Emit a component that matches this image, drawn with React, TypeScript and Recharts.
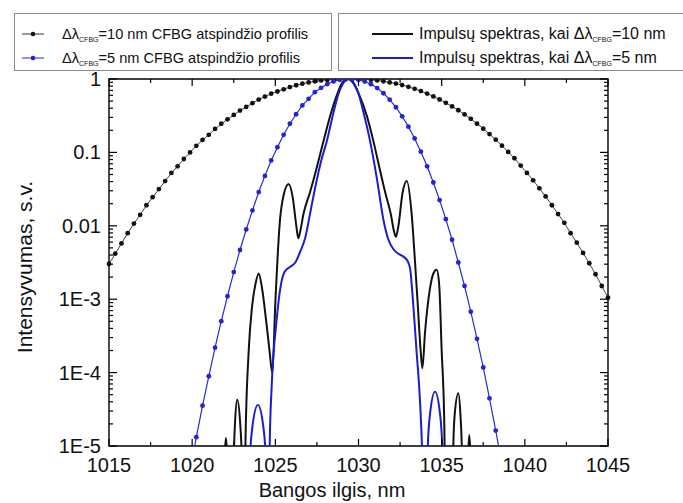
import React from "react";
import { LineChart, Line, XAxis, YAxis, ReferenceArea, Legend } from "recharts";

const FONT = '"Liberation Sans", Arial, sans-serif';
const PLOT_W = 499;
const PLOT_H = 367;

// CFBG reflection profiles, log10 of intensity, on a shared wavelength grid (nm)
const profileX = [
  1015, 1015.375, 1015.75, 1016.125, 1016.5, 1016.875, 1017.25, 1017.625, 1018, 1018.375,
  1018.75, 1019.125, 1019.5, 1019.875, 1020.25, 1020.625, 1021, 1021.375, 1021.75, 1022.125,
  1022.5, 1022.875, 1023.25, 1023.625, 1024, 1024.375, 1024.75, 1025.125, 1025.5, 1025.875,
  1026.25, 1026.625, 1027, 1027.375, 1027.75, 1028.125, 1028.5, 1028.875, 1029.25, 1029.625,
  1030, 1030.375, 1030.75, 1031.125, 1031.5, 1031.875, 1032.25, 1032.625, 1033, 1033.375,
  1033.75, 1034.125, 1034.5, 1034.875, 1035.25, 1035.625, 1036, 1036.375, 1036.75, 1037.125,
  1037.5, 1037.875, 1038.25, 1038.625, 1039, 1039.375, 1039.75, 1040.125, 1040.5, 1040.875,
  1041.25, 1041.625, 1042, 1042.375, 1042.75, 1043.125, 1043.5, 1043.875, 1044.25, 1044.625, 1045,
];
const profile10Log = [
  -2.52, -2.38, -2.24, -2.1, -1.97, -1.85, -1.72, -1.61, -1.5, -1.39,
  -1.28, -1.19, -1.09, -1.0, -0.91, -0.83, -0.76, -0.68, -0.61, -0.55,
  -0.49, -0.43, -0.38, -0.33, -0.28, -0.24, -0.2, -0.17, -0.14, -0.11,
  -0.085, -0.064, -0.047, -0.032, -0.02, -0.012, -0.006, -0.002, 0, 0,
  -0.002, -0.005, -0.011, -0.02, -0.031, -0.046, -0.063, -0.083, -0.107, -0.134,
  -0.165, -0.199, -0.237, -0.279, -0.324, -0.373, -0.426, -0.482, -0.543, -0.608,
  -0.677, -0.75, -0.827, -0.908, -0.994, -1.08, -1.18, -1.28, -1.38, -1.49,
  -1.6, -1.72, -1.84, -1.96, -2.1, -2.23, -2.37, -2.51, -2.66, -2.82, -2.98,
];
// 5 nm profile starts at profileX[13]
const profile5From = 13;
const profile5Log = [
  -5.33, -4.88, -4.45, -4.05, -3.66, -3.3, -2.96, -2.63, -2.33, -2.05,
  -1.79, -1.54, -1.32, -1.11, -0.93, -0.76, -0.61, -0.48, -0.36, -0.27,
  -0.18, -0.12, -0.069, -0.033, -0.011, -0.001, -0.001, -0.011, -0.034, -0.071,
  -0.124, -0.194, -0.281, -0.385, -0.508, -0.649, -0.81, -0.99, -1.19, -1.41,
  -1.65, -1.91, -2.19, -2.5, -2.82, -3.17, -3.54, -3.93, -4.35, -4.79, -5.25,
];

// pulse spectra, log10 of intensity (spectral nulls fall far below the axis)
const spectrum10X = [
  1021.86, 1021.9, 1021.945, 1022.03, 1022.115, 1022.16, 1022.2, 1022.41, 1022.5, 1022.58,
  1022.71, 1022.88, 1022.99, 1023.12, 1023.2, 1023.4, 1023.6, 1023.8, 1024.0, 1024.2,
  1024.45, 1024.65, 1024.82, 1025.0, 1025.28, 1025.5, 1025.8, 1026.05, 1026.25, 1026.38,
  1026.5, 1026.7, 1027.09, 1027.5, 1027.89, 1028.3, 1028.7, 1029.0, 1029.35, 1029.7,
  1030.05, 1030.5, 1030.9, 1031.25, 1031.6, 1031.95, 1032.13, 1032.25, 1032.4, 1032.65,
  1032.9, 1033.2, 1033.4, 1033.57, 1033.72, 1033.84, 1034.0, 1034.3, 1034.5, 1034.7,
  1034.85, 1035.0, 1035.15, 1035.3, 1035.6, 1035.69, 1035.78, 1036.0, 1036.13, 1036.22,
  1036.3, 1036.5, 1036.55, 1036.59, 1036.66, 1036.73, 1036.77, 1036.86,
];
const spectrum10Log = [
  -7, -5.72, -5.19, -4.89, -5.19, -5.72, -7, -7, -5.2, -4.67,
  -4.37, -4.67, -5.2, -7, -5.0, -3.7, -3.1, -2.8, -2.65, -2.85,
  -3.3, -3.7, -4.01, -3.05, -1.92, -1.58, -1.43, -1.62, -1.98, -2.17,
  -2.07, -1.83, -1.54, -1.2, -0.85, -0.5, -0.22, -0.06, 0, -0.06,
  -0.22, -0.5, -0.85, -1.2, -1.54, -1.85, -2.07, -2.15, -2.0, -1.55,
  -1.39, -1.85, -2.5, -3.1, -3.65, -3.94, -3.45, -2.85, -2.65, -2.6,
  -2.8, -3.7, -4.6, -7, -7, -5.11, -4.58, -4.28, -4.58, -5.11,
  -7, -7, -5.68, -5.15, -4.85, -5.15, -5.68, -7,
];
const spectrum5X = [
  1023.33, 1023.45, 1023.62, 1023.95, 1024.28, 1024.45, 1024.57, 1024.66, 1024.78, 1025.08,
  1025.3, 1025.55, 1025.88, 1026.2, 1026.5, 1026.79, 1027.1, 1027.45, 1027.75, 1028.09,
  1028.45, 1028.8, 1029.1, 1029.4, 1029.7, 1030.0, 1030.35, 1030.7, 1031.1, 1031.5,
  1031.8, 1032.1, 1032.4, 1032.7, 1032.95, 1033.1, 1033.3, 1033.5, 1033.7, 1033.85,
  1033.97, 1034.15, 1034.3, 1034.6, 1034.9, 1035.05, 1035.2,
];
const spectrum5Log = [
  -7, -5.27, -4.74, -4.44, -4.74, -5.27, -7, -5.0, -4.19, -3.28,
  -2.85, -2.63, -2.56, -2.5, -2.35, -2.17, -1.82, -1.42, -1.12, -0.85,
  -0.5, -0.2, -0.05, 0, -0.05, -0.2, -0.5, -0.85, -1.35, -1.92,
  -2.19, -2.32, -2.38, -2.42, -2.48, -2.58, -3.1, -3.74, -4.4, -5.3,
  -7, -5.09, -4.56, -4.26, -4.56, -5.09, -7,
];

const xTicks = [1015, 1017.5, 1020, 1022.5, 1025, 1027.5, 1030, 1032.5, 1035, 1037.5, 1040, 1042.5, 1045];
const yDecades = [1e-5, 1e-4, 1e-3, 0.01, 0.1, 1];
const yDecadeLabels = ["1E-5", "1E-4", "1E-3", "0.01", "0.1", "1"];

const toPoints = (xs: number[], logs: number[]) =>
  xs.map((x, i) => ({ x, y: Math.pow(10, logs[i]) }));

const profile10 = toPoints(profileX, profile10Log);
const profile5 = toPoints(profileX.slice(profile5From, profile5From + profile5Log.length), profile5Log);
const spectrum10 = toPoints(spectrum10X, spectrum10Log);
const spectrum5 = toPoints(spectrum5X, spectrum5Log);

// log ticks: decades plus 2..9 minor marks
const yTicks: number[] = [];
yDecades.forEach((d, i) => {
  if (i === yDecades.length - 1) yTicks.push(d);
  else for (let m = 1; m <= 9; m++) yTicks.push(d * m);
});

const XTick = (props: any) => {
  const { x, y, payload } = props;
  const major = payload.value % 5 === 0;
  const len = major ? 7 : 4;
  return (
    <g>
      <line x1={x} y1={y} x2={x} y2={y - len} stroke="#000" strokeWidth={1.2} />
      <line x1={x} y1={y - PLOT_H} x2={x} y2={y - PLOT_H + len} stroke="#000" strokeWidth={1.2} />
      {major && (
        <text x={x} y={y + 26} textAnchor="middle" fontSize={20} fontFamily={FONT} fill="#111">
          {payload.value}
        </text>
      )}
    </g>
  );
};

const YTick = (props: any) => {
  const { x, y, payload } = props;
  const idx = yDecades.findIndex((d) => Math.abs(payload.value - d) / d < 1e-6);
  const major = idx >= 0;
  const len = major ? 8 : 4;
  return (
    <g>
      <line x1={x} y1={y} x2={x + len} y2={y} stroke="#000" strokeWidth={1.2} />
      <line x1={x + PLOT_W} y1={y} x2={x + PLOT_W - len} y2={y} stroke="#000" strokeWidth={1.2} />
      {major && (
        <text x={x - 8} y={y + 7} textAnchor="end" fontSize={20} fontFamily={FONT} fill="#111">
          {yDecadeLabels[idx]}
        </text>
      )}
    </g>
  );
};

const DeltaLambda = () => (
  <span>
    Δλ<sub style={{ fontSize: 7, verticalAlign: "-3px" }}>CFBG</sub>
  </span>
);

const LegendBoxes = () => (
  <div style={{ position: "relative", width: 683, height: 75, fontFamily: FONT, color: "#111" }}>
    <div style={{ position: "absolute", left: 14, top: 13, width: 316, height: 56, border: "1px solid #8a8a8a" }} />
    <div style={{ position: "absolute", left: 338, top: 13, width: 360, height: 56, border: "1px solid #8a8a8a" }} />
    {[
      { top: 24, color: "#333", dot: "#111", text: "=10 nm CFBG atspindžio profilis" },
      { top: 48, color: "#2b2bd0", dot: "#2323d8", text: "=5 nm CFBG atspindžio profilis" },
    ].map((it) => (
      <div key={it.text} style={{ position: "absolute", left: 22, top: it.top, fontSize: 14.6, whiteSpace: "nowrap", display: "flex", alignItems: "center" }}>
        <svg width={24} height={20}>
          <line x1={0} y1={10} x2={22} y2={10} stroke={it.color} strokeWidth={1} />
          <circle cx={11} cy={10} r={2.3} fill={it.dot} />
        </svg>
        <span style={{ marginLeft: 16 }}>
          <DeltaLambda />
          {it.text}
        </span>
      </div>
    ))}
    {[
      { top: 24, color: "#111", text: "=10 nm" },
      { top: 48, color: "#1c1ccf", text: "=5 nm" },
    ].map((it) => (
      <div key={it.text} style={{ position: "absolute", left: 372, top: it.top, fontSize: 16, whiteSpace: "nowrap", display: "flex", alignItems: "center" }}>
        <svg width={42} height={20}>
          <line x1={0} y1={10} x2={41} y2={10} stroke={it.color} strokeWidth={2} />
        </svg>
        <span style={{ marginLeft: 5 }}>
          Impulsų spektras, kai <DeltaLambda />
          {it.text}
        </span>
      </div>
    ))}
  </div>
);

export default function App() {
  return (
    <div style={{ position: "absolute", left: 0, top: 0, width: 683, height: 503, background: "#fff" }}>
      <LineChart width={683} height={503} margin={{ top: 79, right: 75, bottom: 0, left: 0 }}>
        <XAxis
          dataKey="x"
          type="number"
          domain={[1015, 1045]}
          ticks={xTicks}
          interval={0}
          height={57}
          tickSize={0}
          tickMargin={0}
          axisLine={false}
          tick={<XTick />}
          label={() => (
            <text x={332} y={497} textAnchor="middle" fontSize={20} fontFamily={FONT} fill="#111">
              Bangos ilgis, nm
            </text>
          )}
        />
        <YAxis
          dataKey="y"
          scale="log"
          domain={[1e-5, 1]}
          allowDataOverflow
          ticks={yTicks}
          interval={0}
          width={109}
          tickSize={0}
          tickMargin={0}
          axisLine={false}
          tick={<YTick />}
          label={() => (
            <text x={32} y={267} transform="rotate(-90 32 267)" textAnchor="middle" fontSize={21} fontFamily={FONT} fill="#111">
              Intensyvumas, s.v.
            </text>
          )}
        />
        <ReferenceArea x1={1015} x2={1045} y1={1e-5} y2={1} fill="none" stroke="#000" strokeWidth={1.4} fillOpacity={0} />
        <Line data={profile10} dataKey="y" type="linear" stroke="#444" strokeWidth={1} isAnimationActive={false}
          dot={{ r: 2.4, fill: "#111", stroke: "none" }} />
        <Line data={profile5} dataKey="y" type="linear" stroke="#2b2bd0" strokeWidth={1.2} isAnimationActive={false}
          dot={{ r: 2.4, fill: "#2323d8", stroke: "none" }} />
        <Line data={spectrum10} dataKey="y" type="monotone" stroke="#111" strokeWidth={2} dot={false} isAnimationActive={false} />
        <Line data={spectrum5} dataKey="y" type="monotone" stroke="#1c1ccf" strokeWidth={2} dot={false} isAnimationActive={false} />
        <Legend
          layout="horizontal"
          verticalAlign="middle"
          align="center"
          wrapperStyle={{ position: "absolute", top: 0, left: 0, width: 683, height: 75 }}
          content={() => <LegendBoxes />}
        />
      </LineChart>
    </div>
  );
}
